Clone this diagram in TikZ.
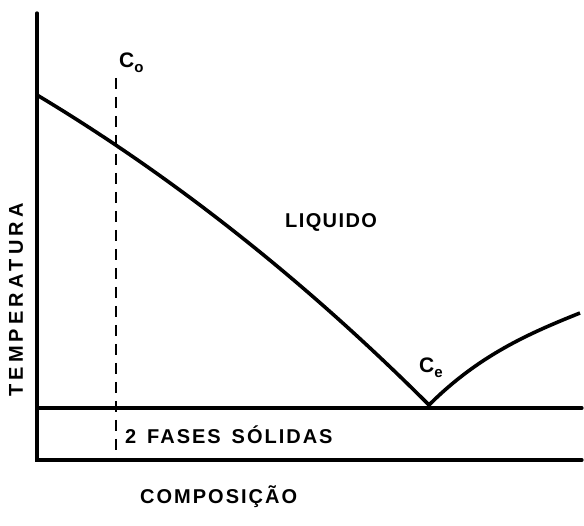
\documentclass[tikz,border=0pt]{standalone}
\usepackage{fontspec}
\setmainfont{Liberation Sans}
\newfontfamily\lblfont[LetterSpace=10]{Liberation Sans Bold}
\newfontfamily\liqfont[LetterSpace=7]{Liberation Sans Bold}
\newfontfamily\wideFont[LetterSpace=21]{Liberation Sans Bold}
\newfontfamily\concfont{Liberation Sans Bold}
\begin{document}
\begin{tikzpicture}[x=1pt,y=-1pt,
  axisline/.style={line width=3.2pt, line cap=round},
  curveline/.style={line width=3.6pt},
  dashline/.style={line width=2.2pt, dash pattern=on 11pt off 8pt},
  lbl/.style={font=\lblfont\fontsize{20}{22}\selectfont, inner sep=0pt},
  conc/.style={font=\concfont\fontsize{21}{22}\selectfont, inner sep=0pt}]
\useasboundingbox (0,0) rectangle (584,526);
% axes
\coordinate (top) at (37,13);
\coordinate (origin) at (37,460);
\coordinate (xend) at (582,460);
\coordinate (eL) at (37,408);
\coordinate (eR) at (582,408);
\draw[axisline] (top) -- (origin) -- (xend);
\draw[axisline] (eL) -- (eR);
% composition C0 dashed
\coordinate (dtop) at (116,78);
\coordinate (dbot) at (116,460);
\draw[dashline] (dtop) -- (dbot);
% liquidus
\coordinate (lstart) at (37,95);
\coordinate (eut) at (429,405);
\coordinate (rend) at (580,313);
\draw[curveline, line join=miter] (lstart) .. controls (167,173) and (299,275) .. (eut)
  .. controls (479,355) and (530,333) .. (rend);
% labels
\node[conc, anchor=west] (c0) at (119,63) {C\raisebox{-5pt}{\fontsize{15}{15}\selectfont o}};
\node[conc, anchor=west] (ce) at (419,368) {C\raisebox{-5pt}{\fontsize{15}{15}\selectfont e}};
\node[lbl, anchor=west, font=\liqfont\fontsize{20}{22}\selectfont] (liq) at (285,222) {LIQUIDO};
\node[lbl, anchor=west] (fases) at (125,435) {2 \,FASES \,SÓLIDAS};
\node[lbl, anchor=west] (comp) at (140,497) {COMPOSIÇÃO};
\node[lbl, rotate=90, font=\wideFont\fontsize{20}{22}\selectfont] (temp) at (16,300) {TEMPERATURA};
\end{tikzpicture}
\end{document}
